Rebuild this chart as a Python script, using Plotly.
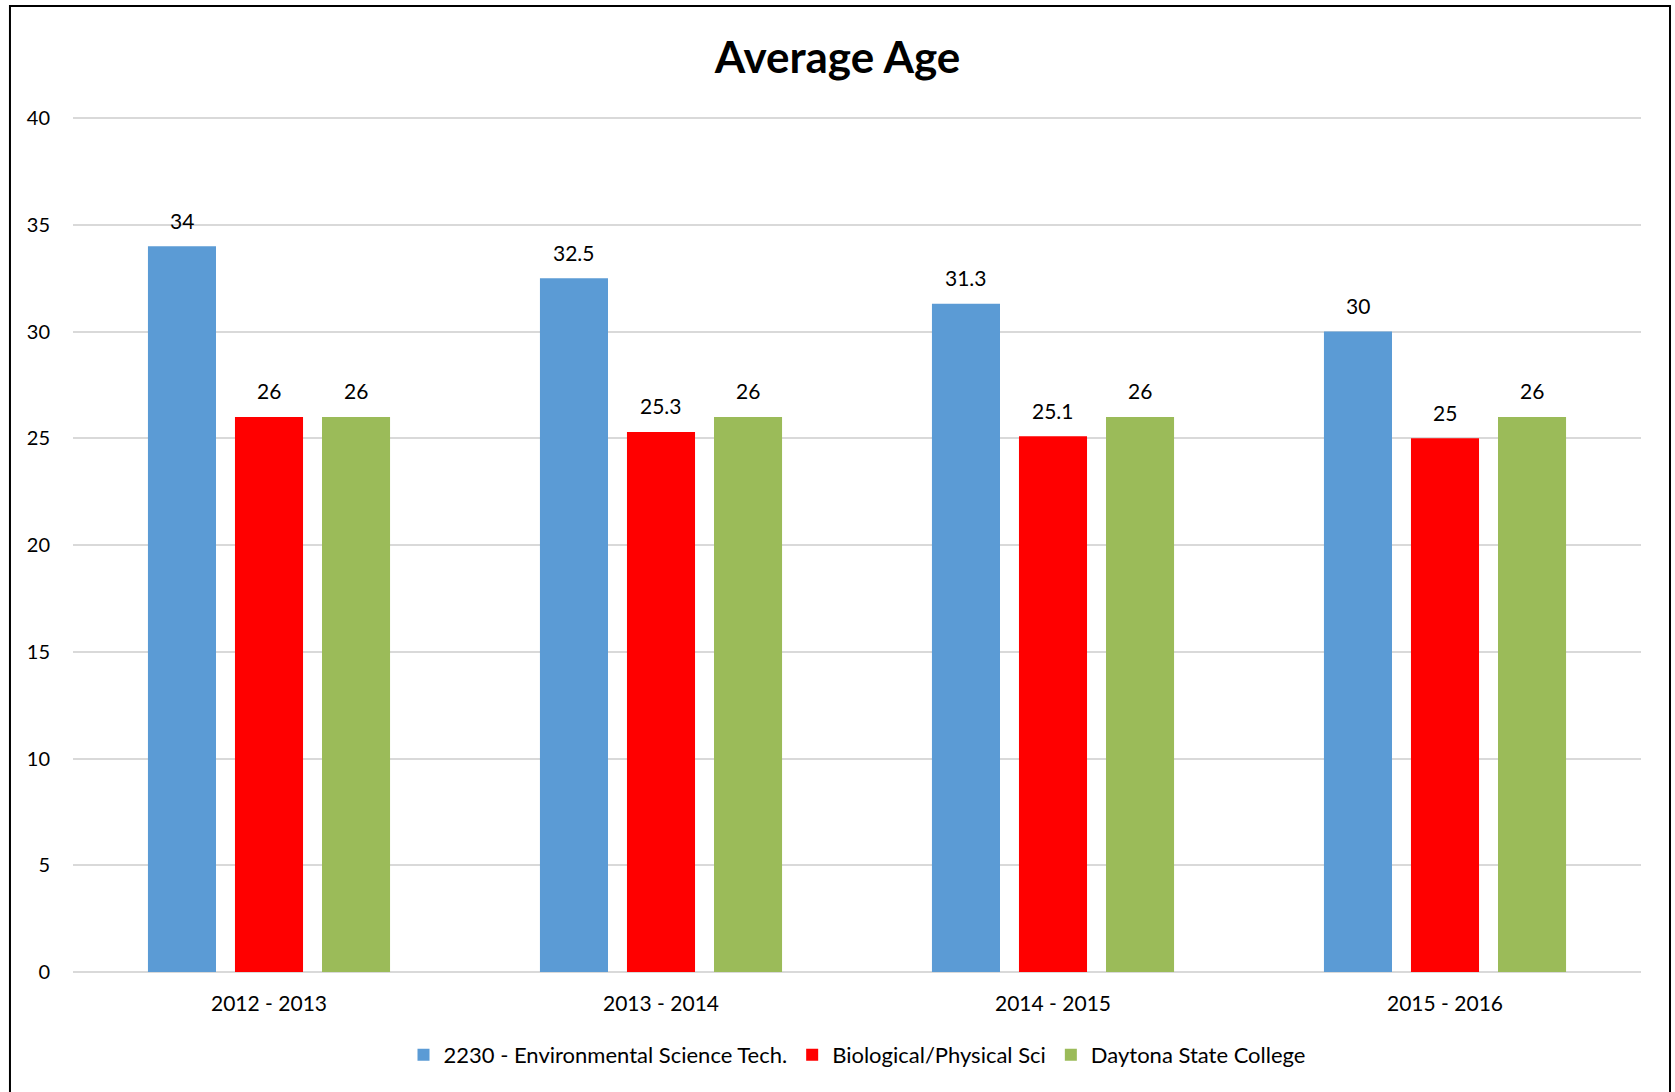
import plotly.graph_objects as go

categories = ["2012 - 2013", "2013 - 2014", "2014 - 2015", "2015 - 2016"]
series_names = ["2230 - Environmental Science Tech.", "Biological/Physical Sci", "Daytona State College"]
env_sci = [34, 32.5, 31.3, 30]
bio_phys = [26, 25.3, 25.1, 25]
daytona = [26, 26, 26, 26]
colors = ["#5B9BD5", "#FF0000", "#9BBB59"]
y_ticks = [0, 5, 10, 15, 20, 25, 30, 35, 40]

FONT = "Lato, 'Open Sans', sans-serif"
BARGAP = 0.334
BARGROUPGAP = 0.218

fig = go.Figure()
all_series = [env_sci, bio_phys, daytona]
n = len(all_series)
slot = (1 - BARGAP) / n
annotations = []
for k, (name, vals, col) in enumerate(zip(series_names, all_series, colors)):
    fig.add_trace(go.Bar(
        name=name, x=categories, y=vals,
        marker=dict(color=col, line=dict(width=0)),
        hoverinfo="x+y+name",
    ))
    offset = (k - (n - 1) / 2) * slot
    for i, v in enumerate(vals):
        annotations.append(dict(
            x=i + offset, y=v, xref="x", yref="y", text=str(v), showarrow=False,
            yanchor="middle", yshift=26,
            font=dict(size=21, family=FONT, color="#000000"),
        ))

fig.update_layout(
    width=1675, height=1092,
    margin=dict(l=73, r=34, t=116, b=120),
    paper_bgcolor="white", plot_bgcolor="white",
    barmode="group", bargap=BARGAP, bargroupgap=BARGROUPGAP,
    title=dict(text="<b>Average Age</b>", x=0.5, xref="container", xanchor="center",
               y=1 - 58 / 1092, yref="container", yanchor="middle",
               font=dict(size=44, family=FONT, color="#000000")),
    font=dict(family=FONT, size=20, color="#000000"),
    showlegend=True,
    legend=dict(orientation="h", x=0.5, xanchor="center", y=-0.097, yanchor="middle",
                font=dict(size=22, family=FONT, color="#000000"),
                itemwidth=30, tracegroupgap=0),
    xaxis=dict(showgrid=False, showline=False, ticks="", ticklabelstandoff=17,
               tickfont=dict(size=21, family=FONT, color="#000000")),
    yaxis=dict(range=[0, 40.1], tickvals=y_ticks, showgrid=True, gridcolor="#D9D9D9", gridwidth=1.5,
               zeroline=True, zerolinecolor="#D9D9D9", zerolinewidth=2, showline=False,
               ticks="", ticklabelstandoff=22,
               tickfont=dict(size=20, family=FONT, color="#000000")),
    annotations=annotations,
    shapes=[dict(type="rect", xref="paper", yref="paper",
                 x0=-0.0402, x1=1.0185, y0=-0.16, y1=1.1285,
                 line=dict(color="#000000", width=2), fillcolor="rgba(0,0,0,0)", layer="above")],
)

fig.write_html("out.html")
